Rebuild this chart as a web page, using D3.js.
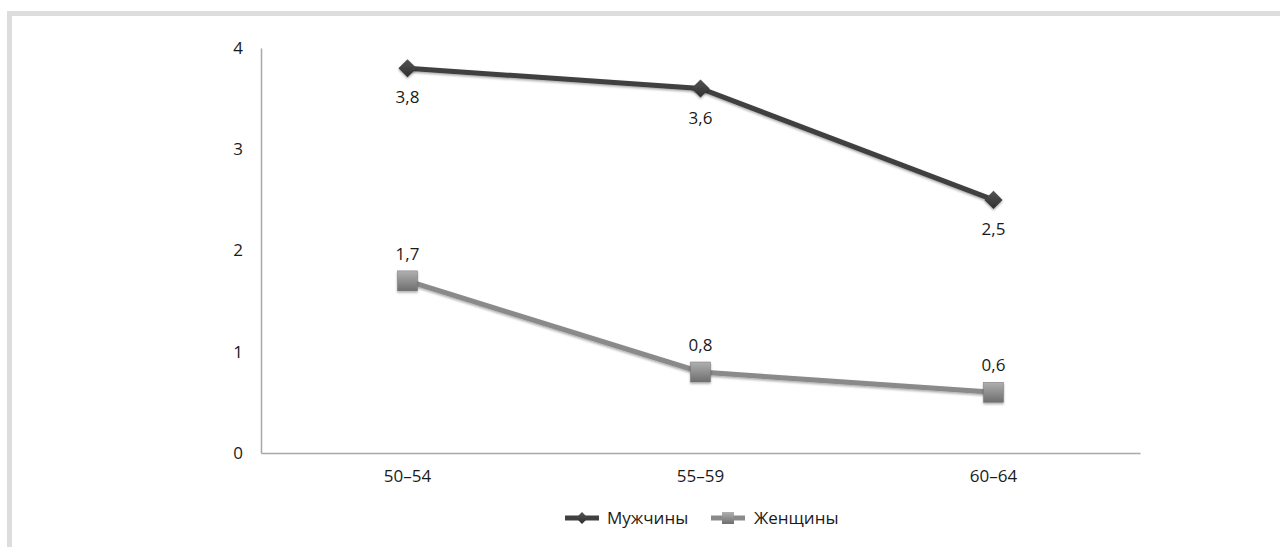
<!DOCTYPE html>
<html><head><meta charset="utf-8">
<script src="https://cdn.jsdelivr.net/npm/d3@7"></script>
<style>body{margin:0;background:#fff;}svg{display:block;}</style>
</head><body>
<script>
const categories = ["50–54", "55–59", "60–64"];
const men = [3.8, 3.6, 2.5];
const women = [1.7, 0.8, 0.6];
const seriesNames = ["Мужчины", "Женщины"];
const yTicks = [0, 1, 2, 3, 4];

const W = 1280, H = 547;
const svg = d3.select("body").append("svg").attr("width", W).attr("height", H);
const defs = svg.append("defs");
const g1 = defs.append("linearGradient").attr("id","sq").attr("x1",0).attr("y1",0).attr("x2",0).attr("y2",1);
g1.append("stop").attr("offset","0%").attr("stop-color","#b0b0b0");
g1.append("stop").attr("offset","100%").attr("stop-color","#6e6e6e");
const g2 = defs.append("linearGradient").attr("id","dm").attr("x1",0).attr("y1",0).attr("x2",0).attr("y2",1);
g2.append("stop").attr("offset","0%").attr("stop-color","#555");
g2.append("stop").attr("offset","100%").attr("stop-color","#2e2e2e");
const f = defs.append("filter").attr("id","sh").attr("x","-50%").attr("y","-50%").attr("width","200%").attr("height","200%");
f.append("feDropShadow").attr("dx",0).attr("dy",1.5).attr("stdDeviation",1.2).attr("flood-color","#000").attr("flood-opacity",0.35);

// frame
svg.append("rect").attr("x",7).attr("y",11).attr("width",W).attr("height",H).attr("fill","#dcdddd");
svg.append("rect").attr("x",12).attr("y",16).attr("width",W).attr("height",H).attr("fill","#fff");

const font = "'Open Sans', 'Noto Sans', sans-serif";
const fs = 17;
const x = d3.scaleBand().domain(categories).range([261, 1140]);
const y = d3.scaleLinear().domain([0, 4]).range([453, 48]);

const yAxis = svg.append("g").attr("transform","translate(261,0)")
  .call(d3.axisLeft(y).tickValues(yTicks).tickSize(0).tickPadding(18).tickFormat(d3.format("d")));
yAxis.select(".domain").attr("stroke","#a8a8a8").attr("stroke-width",1.5);
yAxis.selectAll("text").attr("font-family",font).attr("font-size",fs).attr("fill","#1a1a1a");

const xAxis = svg.append("g").attr("transform","translate(0,453)")
  .call(d3.axisBottom(x).tickSize(0).tickPadding(17));
xAxis.select(".domain").attr("stroke","#a8a8a8").attr("stroke-width",1.5);
xAxis.selectAll("text").attr("font-family",font).attr("font-size",fs).attr("fill","#1a1a1a");

const cx = d => x(d) + x.bandwidth()/2;
const line = d3.line().x(d => cx(d.c)).y(d => y(d.v));
const menData = categories.map((c,i)=>({c, v: men[i]}));
const womenData = categories.map((c,i)=>({c, v: women[i]}));
const fmt = v => d3.format(".1f")(v).replace(".", ",");

svg.append("path").datum(womenData).attr("d", line).attr("fill","none")
  .attr("stroke","#8a8a8a").attr("stroke-width",5).attr("filter","url(#sh)");
svg.append("path").datum(menData).attr("d", line).attr("fill","none")
  .attr("stroke","#404040").attr("stroke-width",5).attr("filter","url(#sh)");

svg.selectAll(".sq").data(womenData).join("rect")
  .attr("x", d => cx(d.c)-10).attr("y", d => y(d.v)-10).attr("width",20).attr("height",20)
  .attr("fill","url(#sq)").attr("stroke","#777").attr("stroke-width",0.5).attr("filter","url(#sh)");
svg.selectAll(".dm").data(menData).join("path")
  .attr("d", d3.symbol().type(d3.symbolDiamond2).size(210)())
  .attr("transform", d => `translate(${cx(d.c)},${y(d.v)})`)
  .attr("fill","url(#dm)").attr("filter","url(#sh)");

svg.selectAll(".ml").data(menData).join("text")
  .attr("x", d => cx(d.c)).attr("y", d => y(d.v)+35).attr("text-anchor","middle")
  .attr("font-family",font).attr("font-size",fs).attr("fill","#1a1a1a").text(d => fmt(d.v));
svg.selectAll(".wl").data(womenData).join("text")
  .attr("x", d => cx(d.c)).attr("y", d => y(d.v)-21).attr("text-anchor","middle")
  .attr("font-family",font).attr("font-size",fs).attr("fill","#1a1a1a").text(d => fmt(d.v));

// legend
const lg = svg.append("g");
const ly = 518;
lg.append("line").attr("x1",565).attr("x2",599).attr("y1",ly).attr("y2",ly).attr("stroke","#404040").attr("stroke-width",5);
lg.append("path").attr("d", d3.symbol().type(d3.symbolDiamond2).size(90)()).attr("transform",`translate(582,${ly})`).attr("fill","url(#dm)");
lg.append("text").attr("x",607).attr("y",ly+6).attr("font-family",font).attr("font-size",fs).attr("fill","#1a1a1a").text(seriesNames[0]);
lg.append("line").attr("x1",711).attr("x2",745).attr("y1",ly).attr("y2",ly).attr("stroke","#8a8a8a").attr("stroke-width",5);
lg.append("rect").attr("x",722).attr("y",ly-6).attr("width",12).attr("height",12).attr("fill","url(#sq)");
lg.append("text").attr("x",754).attr("y",ly+6).attr("font-family",font).attr("font-size",fs).attr("fill","#1a1a1a").text(seriesNames[1]);
</script>
</body></html>
